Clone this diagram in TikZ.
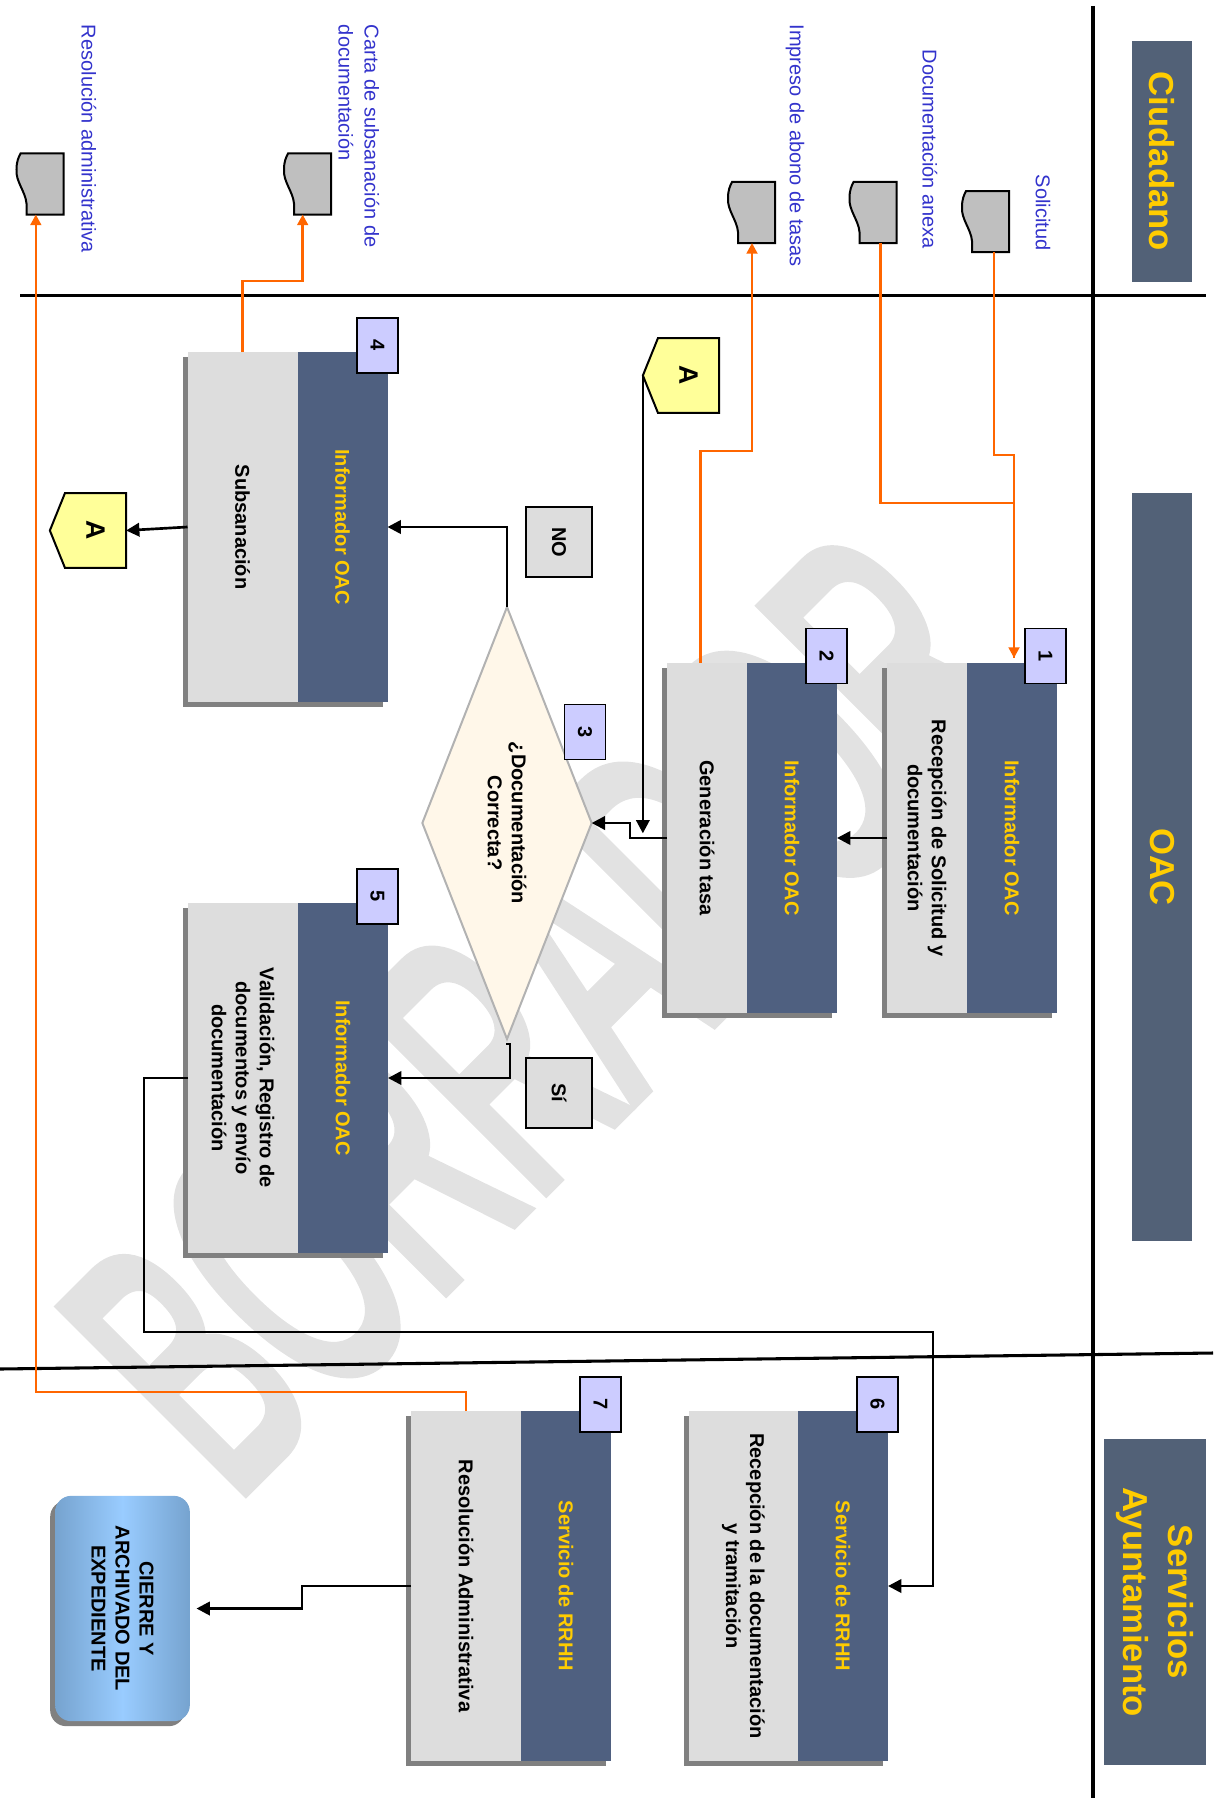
\documentclass[tikz,border=0pt]{standalone}
\usepackage{fontspec}
\usepackage{graphicx}
\setmainfont{Liberation Sans}
\newfontfamily\markfont[FakeBold=4]{Liberation Sans}
\usetikzlibrary{arrows.meta,shadows,shapes.geometric,shapes.symbols}

\definecolor{LaneBlue}{HTML}{526177}
\definecolor{RoleBlue}{HTML}{4F6080}
\definecolor{RoleGold}{HTML}{FFCC00}
\definecolor{TaskGray}{HTML}{DDDDDD}
\definecolor{DocGray}{HTML}{BFBFBF}
\definecolor{NumBlue}{HTML}{CCCCFF}
\definecolor{LabelBlue}{HTML}{3333CC}
\definecolor{LineOrange}{HTML}{FF6600}
\definecolor{ConnYellow}{HTML}{FFFF99}
\definecolor{DecCream}{HTML}{FFF7E9}
\definecolor{MarkGray}{HTML}{E2E2E2}
\definecolor{EndEdge}{HTML}{76A3CF}
\definecolor{EndMid}{HTML}{99CCFF}

\begin{document}
\begin{tikzpicture}[
  x=.75pt, y=-.75pt,
  font=\fontsize{15pt}{18pt}\selectfont\bfseries,
  every node/.style={rotate=-90, outer sep=0pt, inner sep=0pt, align=center},
LaneBox/.style={fill=LaneBlue, minimum height=45pt, text=RoleGold,
                font=\fontsize{26pt}{33.5pt}\selectfont\bfseries},
RoleBox/.style={fill=RoleBlue, text=RoleGold, minimum width=262.5pt, minimum height=67.5pt,
                copy shadow={fill=gray, draw=none, shadow xshift=-3.75pt, shadow yshift=-3.75pt}},
TaskBox/.style={fill=TaskGray, minimum width=262.5pt, anchor=north,
                copy shadow={fill=gray, draw=none, shadow xshift=-3.75pt, shadow yshift=-3.75pt}},
NumBox/.style={draw, line width=1.2pt, fill=NumBlue, minimum width=41.25pt, minimum height=30.75pt},
AnswerBox/.style={draw, line width=1.6pt, fill=TaskGray, minimum width=52.5pt, minimum height=49.5pt},
DocBox/.style={rotate=90, minimum width=34.5pt, minimum height=45.75pt,
   append after command={\pgfextra{
     \draw [line width=1.5pt, fill=DocGray, shift={(\tikzlastnode.north west)}]
       (3,0) -- (46,0) -- (46,61) -- (9,61) -- (9,50)
       .. controls (8,38) and (-2,28) .. (-1,16) .. controls (-1,8) and (1,4) .. (3,0) -- cycle;
   }}},
DocLabel/.style={anchor=west, align=left, text=LabelBlue,
                 font=\fontsize{15pt}{19.5pt}\selectfont},
ConnBox/.style={draw, line width=1.5pt, fill=ConnYellow, signal, signal to=south,
                signal pointer angle=136, minimum width=56pt, minimum height=48.75pt,
                font=\fontsize{20pt}{20pt}\selectfont\bfseries},
DecBox/.style={draw=black!30, line width=1.5pt, fill=DecCream, diamond, shape aspect=2.56,
               minimum width=324pt, minimum height=127pt},
EndBox/.style={rounded corners=12pt, minimum width=169pt, minimum height=101pt,
               left color=EndEdge, right color=EndEdge, middle color=EndMid,
               copy shadow={fill=gray, draw=none, shadow xshift=-3.75pt, shadow yshift=-3.75pt}},
WaterMark/.style={rotate=135, anchor=base west, text=MarkGray,
                  font=\fontsize{280pt}{280pt}\selectfont\markfont},
BlackArrow/.style={line width=2pt, -{Triangle[length=10pt,width=10pt]}},
OrangeLine/.style={line width=2pt, LineOrange},
OrangeArrow/.style={line width=2pt, LineOrange, -{Triangle[length=8pt,width=8pt]}},
  ]
\useasboundingbox (0,0) rectangle (1223,1798);

\node [WaterMark] (Mark) at (232,1502) {\scalebox{.525}[1]{BORRADOR}};

\draw [line width=2.3pt] (1093,6) -- (1093,1798);
\draw [line width=2.3pt] (20,295.5) -- (1206,295.5);
\draw [line width=2.3pt] (0,1369) -- (1213,1353);

\node [LaneBox, minimum width=180.75pt, minimum height=45pt] (Lane1) at (1162,161.5) {Ciudadano};
\node [LaneBox, minimum width=561pt, minimum height=45pt] (Lane2) at (1162,867) {OAC};
\node [LaneBox, minimum width=244pt, minimum height=76.5pt] (Lane3) at (1155,1602) {Servicios\\Ayuntamiento};

\node [RoleBox] (Role1) at (1012,838) {Informador OAC};
\node [TaskBox, minimum height=60pt] (Task1) at (Role1.south) {Recepción de Solicitud y\\documentación};
\node [RoleBox] (Role2) at (792,838) {Informador OAC};
\node [TaskBox, minimum height=60pt] (Task2) at (Role2.south) {Generación tasa};
\node [RoleBox] (Role4) at (342.5,527) {Informador OAC};
\node [TaskBox, minimum height=82.5pt] (Task4) at (Role4.south) {Subsanación};
\node [RoleBox] (Role5) at (343,1078) {Informador OAC};
\node [TaskBox, minimum height=82.5pt] (Task5) at (Role5.south) {Validación, Registro de\\documentos y envío\\documentación};
\node [RoleBox] (Role6) at (843,1586) {Servicio de RRHH};
\node [TaskBox, minimum height=82pt] (Task6) at (Role6.south) {Recepción de la documentación\\y tramitación};
\node [RoleBox] (Role7) at (566,1586) {Servicio de RRHH};
\node [TaskBox, minimum height=82.5pt] (Task7) at (Role7.south) {Resolución Administrativa};

\node [NumBox] (Num1) at (1045.5,656) {1};
\node [NumBox] (Num2) at (826.5,656) {2};
\node [NumBox] (Num4) at (377.5,345.5) {4};
\node [NumBox] (Num5) at (377.5,896.5) {5};
\node [NumBox] (Num6) at (877.5,1404.5) {6};
\node [NumBox] (Num7) at (600.5,1404.5) {7};

\node [DecBox] (Dec3) at (507,823) {¿Documentación\\Correcta?};
\node [NumBox] (Num3) at (585,732) {3};
\node [AnswerBox] (AnsNo) at (559,542) {NO};
\node [AnswerBox] (AnsYes) at (559,1093) {Sí};

\node [ConnBox] (ConnA) at (688.5,375.5) {A};
\node [ConnBox] (ConnB) at (95.5,530.5) {A};
\node [EndBox] (End) at (122.5,1608.5) {CIERRE Y\\ARCHIVADO DEL\\EXPEDIENTE};

\node [DocBox] (DocSol) at (986,221.5) {};
\node [DocBox] (DocAnx) at (873.5,212.5) {};
\node [DocBox] (DocImp) at (752,212.5) {};
\node [DocBox] (DocCar) at (308,184) {};
\node [DocBox] (DocRes) at (40.5,184) {};

\node [DocLabel] (LabSol) at (1043,175) {Solicitud};
\node [DocLabel] (LabAnx) at (930,50) {Documentación anexa};
\node [DocLabel] (LabImp) at (795,24.5) {Impreso de abono de tasas};
\node [DocLabel] (LabCar) at (359,25) {Carta de subsanación de\\documentación};
\node [DocLabel] (LabRes) at (89,25) {Resolución administrativa};

\coordinate (In1) at (1014,658);
\coordinate (Tick) at (506,1044);
\coordinate (Turn) at (933,1332);

\draw [OrangeArrow] ([xshift=6pt]DocSol.south) -- ++(0,203) -| (In1);
\draw [OrangeLine] ([xshift=5pt]DocAnx.south) -- ++(0,260) -| (In1);
\draw [OrangeArrow] ([xshift=-5pt]Task2.west) -- ++(0,-212) -| (DocImp.south);
\draw [OrangeArrow] (Task4.west) -- ++(0,-71) -| ([xshift=-4pt]DocCar.south);
\draw [OrangeArrow] (Task7.west) -- ++(0,-19) -| ([xshift=-3.5pt]DocRes.south);

\draw [BlackArrow] (Task1.south) -- (Role2.north);
\draw [BlackArrow] (Task2.south) -- ++(-37,0) |- (Dec3.north);
\draw [BlackArrow, shorten >=3.5pt] (ConnA.south) -- (ConnA.south |- Task2.south);
\draw [BlackArrow] (Dec3.west) |- (Role4.north);
\draw [BlackArrow] (Task4.south) -- (ConnB.north);
\draw [BlackArrow] (Tick) -- ++(4,0) |- (Role5.north);
\draw [BlackArrow] (Task5.south) -- ++(-44,0) |- (Turn) |- (Role6.north);
\draw [BlackArrow, shorten >=5pt] (Task7.south) -- ++(-109,0) |- (End.north);
\end{tikzpicture}
\end{document}
